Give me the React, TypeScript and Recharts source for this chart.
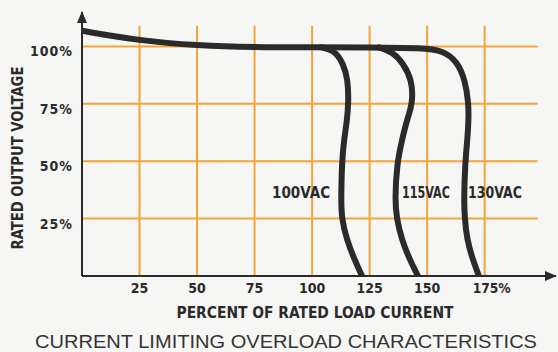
import {
  LineChart,
  Line,
  XAxis,
  YAxis,
  ReferenceLine,
  ReferenceDot,
} from "recharts";

type Pt = { x: number; y: number };

// axis ranges (percent)
const X_MAX = 206;
const Y_MAX = 115;
const GRID_TOP = 109;
const GRID_RIGHT = 198;

const xTicks = [25, 50, 75, 100, 125, 150, 175];
const yTicks = [25, 50, 75, 100];

// main line, running on into the 130 VAC knee
const ac130: Pt[] = [
  { x: 0, y: 106.8 },
  { x: 25, y: 102.5 },
  { x: 50, y: 100.4 },
  { x: 75, y: 99.6 },
  { x: 100, y: 99.6 },
  { x: 125, y: 99.6 },
  { x: 148, y: 99.3 },
  { x: 157, y: 98.2 },
  { x: 163, y: 93.5 },
  { x: 166.5, y: 85.4 },
  { x: 168, y: 75.4 },
  { x: 168, y: 68 },
  { x: 167.5, y: 59.3 },
  { x: 166.5, y: 49.3 },
  { x: 166, y: 33.3 },
  { x: 166.3, y: 25.4 },
  { x: 167.3, y: 15.9 },
  { x: 169.8, y: 7.2 },
  { x: 172.5, y: 0 },
];

const ac100: Pt[] = [
  { x: 104, y: 99.6 },
  { x: 109.5, y: 98.5 },
  { x: 113.5, y: 92.8 },
  { x: 115.6, y: 85.4 },
  { x: 115.8, y: 75.4 },
  { x: 115.2, y: 68 },
  { x: 113.9, y: 59.3 },
  { x: 113, y: 50.7 },
  { x: 112.6, y: 33.3 },
  { x: 112.8, y: 25.4 },
  { x: 115, y: 15.9 },
  { x: 118.4, y: 7.2 },
  { x: 121.7, y: 0 },
];

const ac115: Pt[] = [
  { x: 129, y: 99.6 },
  { x: 135, y: 97.6 },
  { x: 139.5, y: 92.8 },
  { x: 143.4, y: 85.4 },
  { x: 143.8, y: 75.4 },
  { x: 141.2, y: 68 },
  { x: 139.1, y: 59.3 },
  { x: 136.9, y: 49.3 },
  { x: 136, y: 33.3 },
  { x: 136.7, y: 25.4 },
  { x: 138.9, y: 15.9 },
  { x: 142.4, y: 7.2 },
  { x: 146, y: 0 },
];

const curveLabels = [
  { text: "100VAC", x: 95.2, y: 36.6, len: 58 },
  { text: "115VAC", x: 149.5, y: 36.6, len: 48 },
  { text: "130VAC", x: 179.5, y: 36.6, len: 54 },
];

const INK = "#2a2a2a";
const GRID = "#f2a33a";
const FONT = "'DejaVu Sans Condensed', 'DejaVu Sans', sans-serif";

const XTick = (props: any) => {
  const v = props.payload.value;
  if (v === 175) {
    return (
      <text x={props.x - 12} y={293} textAnchor="start" fontFamily={FONT} fontWeight="bold" fontSize={14} fill={INK} textLength={38} lengthAdjust="spacingAndGlyphs">
        175%
      </text>
    );
  }
  return (
    <text x={props.x} y={293} textAnchor="middle" fontFamily={FONT} fontWeight="bold" fontSize={14} fill={INK}>
      {v}
    </text>
  );
};

const YTick = (props: any) => (
  <text x={73} y={props.y + 10} textAnchor="end" fontFamily={FONT} fontWeight="bold" fontSize={14} fill={INK} letterSpacing={1}>
    {`${props.payload.value}%`}
  </text>
);

export default function App() {
  return (
    <div style={{ position: "absolute", left: 0, top: 0, width: 558, height: 352, background: "#f6f6f4" }}>
      <LineChart width={558} height={352} margin={{ top: 12, right: 2, left: 0, bottom: 0 }}>
        <XAxis
          dataKey="x"
          type="number"
          domain={[0, X_MAX]}
          ticks={xTicks}
          tick={XTick}
          tickLine={false}
          height={76}
          axisLine={{ stroke: INK, strokeWidth: 2 }}
          allowDataOverflow
          label={{
            content: () => (
              <g>
                <text x={315} y={318} textAnchor="middle" fontFamily={FONT} fontWeight="bold" fontSize={16} fill={INK} textLength={277} lengthAdjust="spacingAndGlyphs">
                  PERCENT OF RATED LOAD CURRENT
                </text>
                <text x={286} y={348} textAnchor="middle" fontFamily="'Liberation Sans', Arial, sans-serif" fontSize={19} fill="#333" textLength={502} lengthAdjust="spacingAndGlyphs">
                  CURRENT LIMITING OVERLOAD CHARACTERISTICS
                </text>
              </g>
            ),
          }}
        />
        <YAxis
          type="number"
          domain={[0, Y_MAX]}
          ticks={yTicks}
          tick={YTick}
          tickLine={false}
          width={82}
          axisLine={{ stroke: INK, strokeWidth: 2 }}
          allowDataOverflow
          label={{
            content: () => (
              <text
                x={0}
                y={0}
                transform="translate(23,158) rotate(-90)"
                textAnchor="middle"
                fontFamily={FONT}
                fontWeight="bold"
                fontSize={15}
                fill={INK}
                textLength={183}
                lengthAdjust="spacingAndGlyphs"
              >
                RATED OUTPUT VOLTAGE
              </text>
            ),
          }}
        />

        {xTicks.map((t) => (
          <ReferenceLine key={`vx${t}`} segment={[{ x: t, y: 0 }, { x: t, y: GRID_TOP }]} stroke={GRID} strokeWidth={2} />
        ))}
        {yTicks.map((t) => (
          <ReferenceLine key={`hy${t}`} segment={[{ x: 0, y: t }, { x: GRID_RIGHT, y: t }]} stroke={GRID} strokeWidth={2} />
        ))}

        <Line data={ac130} dataKey="y" type="basis" stroke={INK} strokeWidth={6} dot={false} isAnimationActive={false} strokeLinecap="round" />
        <Line data={ac100} dataKey="y" type="basis" stroke={INK} strokeWidth={6} dot={false} isAnimationActive={false} strokeLinecap="round" />
        <Line data={ac115} dataKey="y" type="basis" stroke={INK} strokeWidth={6} dot={false} isAnimationActive={false} strokeLinecap="round" />

        {curveLabels.map((l) => (
          <ReferenceDot
            key={l.text}
            x={l.x}
            y={l.y}
            r={0}
            shape={(p: any) => (
              <text x={p.cx} y={p.cy + 6} textAnchor="middle" fontFamily={FONT} fontWeight="bold" fontSize={15} fill={INK} textLength={l.len} lengthAdjust="spacingAndGlyphs">
                {l.text}
              </text>
            )}
          />
        ))}

        {/* arrow heads on the axes */}
        <ReferenceDot
          x={X_MAX}
          y={0}
          r={0}
          shape={(p: any) => <path d={`M${p.cx + 1},${p.cy} l-12,-5 l0,10 z`} fill={INK} />}
        />
        <ReferenceDot
          x={0}
          y={Y_MAX}
          r={0}
          shape={(p: any) => <path d={`M${p.cx},${p.cy - 1} l-5,12 l10,0 z`} fill={INK} />}
        />
      </LineChart>
    </div>
  );
}
